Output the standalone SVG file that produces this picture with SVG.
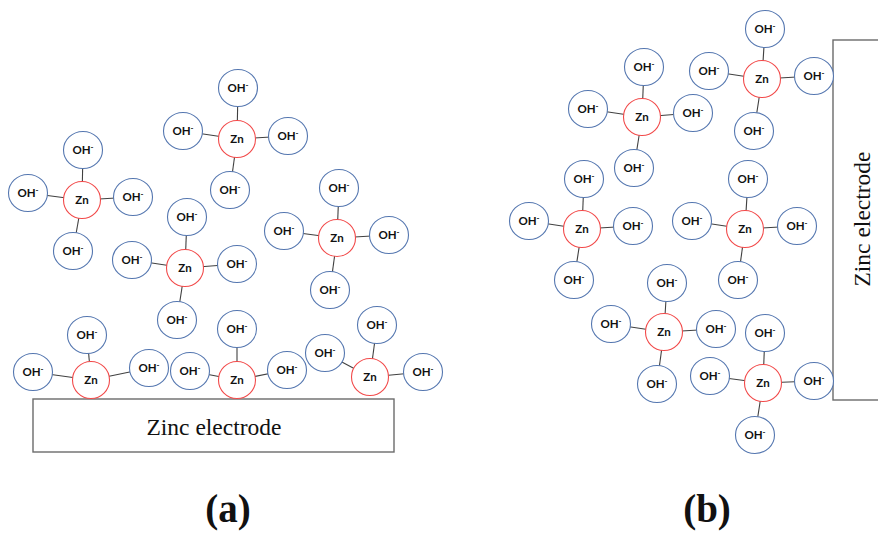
<svg xmlns="http://www.w3.org/2000/svg" width="878" height="533" viewBox="0 0 878 533">
<style>
.oh{fill:#fff;stroke:#5577b0;stroke-width:1.1}
.zn{fill:#fff;stroke:#f24a4a;stroke-width:1.1}
.t{font-family:Lato,"Open Sans","Liberation Sans",sans-serif;font-weight:bold;font-size:11.5px;fill:#111;text-anchor:middle}
.m{font-size:8px}
#connectors line{stroke:#404040;stroke-width:1.1}
.el{fill:#fff;stroke:#6b6b6b;stroke-width:1.4}
.et{font-family:"Liberation Serif","Times New Roman",serif;font-size:23.5px;fill:#111;text-anchor:middle}
.cap{font-family:"Liberation Serif","Times New Roman",serif;font-size:39px;font-weight:bold;fill:#111;text-anchor:middle}
</style>
<rect width="878" height="533" fill="#fff"/>
<g id="electrode-a"><rect class="el" x="33" y="399" width="361" height="53"/><text class="et" x="214" y="435">Zinc electrode</text></g>
<g id="electrode-b"><rect class="el" x="833" y="40" width="60" height="360"/><text class="et" transform="translate(870,219) rotate(-90)">Zinc electrode</text></g>
<g id="connectors">
<line x1="82" y1="200" x2="83" y2="150"/><line x1="82" y1="200" x2="28" y2="193"/><line x1="82" y1="200" x2="133" y2="197"/><line x1="82" y1="200" x2="73" y2="251"/>
<line x1="237" y1="139" x2="238" y2="88"/><line x1="237" y1="139" x2="183" y2="131"/><line x1="237" y1="139" x2="288" y2="136"/><line x1="237" y1="139" x2="230" y2="190"/>
<line x1="185" y1="268" x2="187" y2="217"/><line x1="185" y1="268" x2="132" y2="260"/><line x1="185" y1="268" x2="237" y2="264"/><line x1="185" y1="268" x2="177" y2="320"/>
<line x1="337" y1="238" x2="339" y2="188"/><line x1="337" y1="238" x2="284" y2="231"/><line x1="337" y1="238" x2="389" y2="235"/><line x1="337" y1="238" x2="330" y2="290"/>
<line x1="91" y1="380" x2="87" y2="335"/><line x1="91" y1="380" x2="33" y2="372"/><line x1="91" y1="380" x2="149" y2="368"/>
<line x1="237" y1="380" x2="237" y2="329"/><line x1="237" y1="380" x2="190" y2="371"/><line x1="237" y1="380" x2="287" y2="370"/>
<line x1="370" y1="377" x2="377" y2="325"/><line x1="370" y1="377" x2="325" y2="353"/><line x1="370" y1="377" x2="423" y2="372"/>
<line x1="642" y1="117" x2="644" y2="67"/><line x1="642" y1="117" x2="588" y2="109"/><line x1="642" y1="117" x2="693" y2="113"/><line x1="642" y1="117" x2="634" y2="168"/>
<line x1="762" y1="79" x2="765" y2="29"/><line x1="762" y1="79" x2="709" y2="71"/><line x1="762" y1="79" x2="814" y2="76"/><line x1="762" y1="79" x2="754" y2="131"/>
<line x1="582" y1="229" x2="584" y2="179"/><line x1="582" y1="229" x2="529" y2="221"/><line x1="582" y1="229" x2="633" y2="226"/><line x1="582" y1="229" x2="574" y2="280"/>
<line x1="745" y1="229" x2="748" y2="179"/><line x1="745" y1="229" x2="692" y2="221"/><line x1="745" y1="229" x2="797" y2="226"/><line x1="745" y1="229" x2="738" y2="280"/>
<line x1="664" y1="332" x2="667" y2="283"/><line x1="664" y1="332" x2="611" y2="324"/><line x1="664" y1="332" x2="716" y2="329"/><line x1="664" y1="332" x2="657" y2="384"/>
<line x1="763" y1="383" x2="765" y2="333"/><line x1="763" y1="383" x2="710" y2="376"/><line x1="763" y1="383" x2="814" y2="381"/><line x1="763" y1="383" x2="755" y2="435"/>
</g>
<g id="A-zn"><circle class="zn" cx="82" cy="200" r="18.5"/><text class="t" x="82" y="204">Zn</text></g>
<g id="A-oh1"><ellipse class="oh" cx="83" cy="150" rx="19.5" ry="18.5"/><text class="t" x="83" y="154">OH<tspan class="m" dy="-4">-</tspan></text></g>
<g id="A-oh2"><ellipse class="oh" cx="28" cy="193" rx="19.5" ry="18.5"/><text class="t" x="28" y="197">OH<tspan class="m" dy="-4">-</tspan></text></g>
<g id="A-oh3"><ellipse class="oh" cx="133" cy="197" rx="19.5" ry="18.5"/><text class="t" x="133" y="201">OH<tspan class="m" dy="-4">-</tspan></text></g>
<g id="A-oh4"><ellipse class="oh" cx="73" cy="251" rx="19.5" ry="18.5"/><text class="t" x="73" y="255">OH<tspan class="m" dy="-4">-</tspan></text></g>
<g id="B-zn"><circle class="zn" cx="237" cy="139" r="18.5"/><text class="t" x="237" y="143">Zn</text></g>
<g id="B-oh1"><ellipse class="oh" cx="238" cy="88" rx="19.5" ry="18.5"/><text class="t" x="238" y="92">OH<tspan class="m" dy="-4">-</tspan></text></g>
<g id="B-oh2"><ellipse class="oh" cx="183" cy="131" rx="19.5" ry="18.5"/><text class="t" x="183" y="135">OH<tspan class="m" dy="-4">-</tspan></text></g>
<g id="B-oh3"><ellipse class="oh" cx="288" cy="136" rx="19.5" ry="18.5"/><text class="t" x="288" y="140">OH<tspan class="m" dy="-4">-</tspan></text></g>
<g id="B-oh4"><ellipse class="oh" cx="230" cy="190" rx="19.5" ry="18.5"/><text class="t" x="230" y="194">OH<tspan class="m" dy="-4">-</tspan></text></g>
<g id="C-zn"><circle class="zn" cx="185" cy="268" r="18.5"/><text class="t" x="185" y="272">Zn</text></g>
<g id="C-oh1"><ellipse class="oh" cx="187" cy="217" rx="19.5" ry="18.5"/><text class="t" x="187" y="221">OH<tspan class="m" dy="-4">-</tspan></text></g>
<g id="C-oh2"><ellipse class="oh" cx="132" cy="260" rx="19.5" ry="18.5"/><text class="t" x="132" y="264">OH<tspan class="m" dy="-4">-</tspan></text></g>
<g id="C-oh3"><ellipse class="oh" cx="237" cy="264" rx="19.5" ry="18.5"/><text class="t" x="237" y="268">OH<tspan class="m" dy="-4">-</tspan></text></g>
<g id="C-oh4"><ellipse class="oh" cx="177" cy="320" rx="19.5" ry="18.5"/><text class="t" x="177" y="324">OH<tspan class="m" dy="-4">-</tspan></text></g>
<g id="D-zn"><circle class="zn" cx="337" cy="238" r="18.5"/><text class="t" x="337" y="242">Zn</text></g>
<g id="D-oh1"><ellipse class="oh" cx="339" cy="188" rx="19.5" ry="18.5"/><text class="t" x="339" y="192">OH<tspan class="m" dy="-4">-</tspan></text></g>
<g id="D-oh2"><ellipse class="oh" cx="284" cy="231" rx="19.5" ry="18.5"/><text class="t" x="284" y="235">OH<tspan class="m" dy="-4">-</tspan></text></g>
<g id="D-oh3"><ellipse class="oh" cx="389" cy="235" rx="19.5" ry="18.5"/><text class="t" x="389" y="239">OH<tspan class="m" dy="-4">-</tspan></text></g>
<g id="D-oh4"><ellipse class="oh" cx="330" cy="290" rx="19.5" ry="18.5"/><text class="t" x="330" y="294">OH<tspan class="m" dy="-4">-</tspan></text></g>
<g id="E-zn"><circle class="zn" cx="91" cy="380" r="18.5"/><text class="t" x="91" y="384">Zn</text></g>
<g id="E-oh1"><ellipse class="oh" cx="87" cy="335" rx="19.5" ry="18.5"/><text class="t" x="87" y="339">OH<tspan class="m" dy="-4">-</tspan></text></g>
<g id="E-oh2"><ellipse class="oh" cx="33" cy="372" rx="19.5" ry="18.5"/><text class="t" x="33" y="376">OH<tspan class="m" dy="-4">-</tspan></text></g>
<g id="E-oh3"><ellipse class="oh" cx="149" cy="368" rx="19.5" ry="18.5"/><text class="t" x="149" y="372">OH<tspan class="m" dy="-4">-</tspan></text></g>
<g id="F-zn"><circle class="zn" cx="237" cy="380" r="18.5"/><text class="t" x="237" y="384">Zn</text></g>
<g id="F-oh1"><ellipse class="oh" cx="237" cy="329" rx="19.5" ry="18.5"/><text class="t" x="237" y="333">OH<tspan class="m" dy="-4">-</tspan></text></g>
<g id="F-oh2"><ellipse class="oh" cx="190" cy="371" rx="19.5" ry="18.5"/><text class="t" x="190" y="375">OH<tspan class="m" dy="-4">-</tspan></text></g>
<g id="F-oh3"><ellipse class="oh" cx="287" cy="370" rx="19.5" ry="18.5"/><text class="t" x="287" y="374">OH<tspan class="m" dy="-4">-</tspan></text></g>
<g id="G-zn"><circle class="zn" cx="370" cy="377" r="18.5"/><text class="t" x="370" y="381">Zn</text></g>
<g id="G-oh1"><ellipse class="oh" cx="377" cy="325" rx="19.5" ry="18.5"/><text class="t" x="377" y="329">OH<tspan class="m" dy="-4">-</tspan></text></g>
<g id="G-oh2"><ellipse class="oh" cx="325" cy="353" rx="19.5" ry="18.5"/><text class="t" x="325" y="357">OH<tspan class="m" dy="-4">-</tspan></text></g>
<g id="G-oh3"><ellipse class="oh" cx="423" cy="372" rx="19.5" ry="18.5"/><text class="t" x="423" y="376">OH<tspan class="m" dy="-4">-</tspan></text></g>
<g id="H-zn"><circle class="zn" cx="642" cy="117" r="18.5"/><text class="t" x="642" y="121">Zn</text></g>
<g id="H-oh1"><ellipse class="oh" cx="644" cy="67" rx="19.5" ry="18.5"/><text class="t" x="644" y="71">OH<tspan class="m" dy="-4">-</tspan></text></g>
<g id="H-oh2"><ellipse class="oh" cx="588" cy="109" rx="19.5" ry="18.5"/><text class="t" x="588" y="113">OH<tspan class="m" dy="-4">-</tspan></text></g>
<g id="H-oh3"><ellipse class="oh" cx="693" cy="113" rx="19.5" ry="18.5"/><text class="t" x="693" y="117">OH<tspan class="m" dy="-4">-</tspan></text></g>
<g id="H-oh4"><ellipse class="oh" cx="634" cy="168" rx="19.5" ry="18.5"/><text class="t" x="634" y="172">OH<tspan class="m" dy="-4">-</tspan></text></g>
<g id="I-zn"><circle class="zn" cx="762" cy="79" r="18.5"/><text class="t" x="762" y="83">Zn</text></g>
<g id="I-oh1"><ellipse class="oh" cx="765" cy="29" rx="19.5" ry="18.5"/><text class="t" x="765" y="33">OH<tspan class="m" dy="-4">-</tspan></text></g>
<g id="I-oh2"><ellipse class="oh" cx="709" cy="71" rx="19.5" ry="18.5"/><text class="t" x="709" y="75">OH<tspan class="m" dy="-4">-</tspan></text></g>
<g id="I-oh3"><ellipse class="oh" cx="814" cy="76" rx="19.5" ry="18.5"/><text class="t" x="814" y="80">OH<tspan class="m" dy="-4">-</tspan></text></g>
<g id="I-oh4"><ellipse class="oh" cx="754" cy="131" rx="19.5" ry="18.5"/><text class="t" x="754" y="135">OH<tspan class="m" dy="-4">-</tspan></text></g>
<g id="J-zn"><circle class="zn" cx="582" cy="229" r="18.5"/><text class="t" x="582" y="233">Zn</text></g>
<g id="J-oh1"><ellipse class="oh" cx="584" cy="179" rx="19.5" ry="18.5"/><text class="t" x="584" y="183">OH<tspan class="m" dy="-4">-</tspan></text></g>
<g id="J-oh2"><ellipse class="oh" cx="529" cy="221" rx="19.5" ry="18.5"/><text class="t" x="529" y="225">OH<tspan class="m" dy="-4">-</tspan></text></g>
<g id="J-oh3"><ellipse class="oh" cx="633" cy="226" rx="19.5" ry="18.5"/><text class="t" x="633" y="230">OH<tspan class="m" dy="-4">-</tspan></text></g>
<g id="J-oh4"><ellipse class="oh" cx="574" cy="280" rx="19.5" ry="18.5"/><text class="t" x="574" y="284">OH<tspan class="m" dy="-4">-</tspan></text></g>
<g id="L-zn"><circle class="zn" cx="745" cy="229" r="18.5"/><text class="t" x="745" y="233">Zn</text></g>
<g id="L-oh1"><ellipse class="oh" cx="748" cy="179" rx="19.5" ry="18.5"/><text class="t" x="748" y="183">OH<tspan class="m" dy="-4">-</tspan></text></g>
<g id="L-oh2"><ellipse class="oh" cx="692" cy="221" rx="19.5" ry="18.5"/><text class="t" x="692" y="225">OH<tspan class="m" dy="-4">-</tspan></text></g>
<g id="L-oh3"><ellipse class="oh" cx="797" cy="226" rx="19.5" ry="18.5"/><text class="t" x="797" y="230">OH<tspan class="m" dy="-4">-</tspan></text></g>
<g id="L-oh4"><ellipse class="oh" cx="738" cy="280" rx="19.5" ry="18.5"/><text class="t" x="738" y="284">OH<tspan class="m" dy="-4">-</tspan></text></g>
<g id="K-zn"><circle class="zn" cx="664" cy="332" r="18.5"/><text class="t" x="664" y="336">Zn</text></g>
<g id="K-oh1"><ellipse class="oh" cx="667" cy="283" rx="19.5" ry="18.5"/><text class="t" x="667" y="287">OH<tspan class="m" dy="-4">-</tspan></text></g>
<g id="K-oh2"><ellipse class="oh" cx="611" cy="324" rx="19.5" ry="18.5"/><text class="t" x="611" y="328">OH<tspan class="m" dy="-4">-</tspan></text></g>
<g id="K-oh3"><ellipse class="oh" cx="716" cy="329" rx="19.5" ry="18.5"/><text class="t" x="716" y="333">OH<tspan class="m" dy="-4">-</tspan></text></g>
<g id="K-oh4"><ellipse class="oh" cx="657" cy="384" rx="19.5" ry="18.5"/><text class="t" x="657" y="388">OH<tspan class="m" dy="-4">-</tspan></text></g>
<g id="M-zn"><circle class="zn" cx="763" cy="383" r="18.5"/><text class="t" x="763" y="387">Zn</text></g>
<g id="M-oh1"><ellipse class="oh" cx="765" cy="333" rx="19.5" ry="18.5"/><text class="t" x="765" y="337">OH<tspan class="m" dy="-4">-</tspan></text></g>
<g id="M-oh2"><ellipse class="oh" cx="710" cy="376" rx="19.5" ry="18.5"/><text class="t" x="710" y="380">OH<tspan class="m" dy="-4">-</tspan></text></g>
<g id="M-oh3"><ellipse class="oh" cx="814" cy="381" rx="19.5" ry="18.5"/><text class="t" x="814" y="385">OH<tspan class="m" dy="-4">-</tspan></text></g>
<g id="M-oh4"><ellipse class="oh" cx="755" cy="435" rx="19.5" ry="18.5"/><text class="t" x="755" y="439">OH<tspan class="m" dy="-4">-</tspan></text></g>
<text class="cap" x="228" y="522">(a)</text>
<text class="cap" x="707" y="522">(b)</text>
</svg>
